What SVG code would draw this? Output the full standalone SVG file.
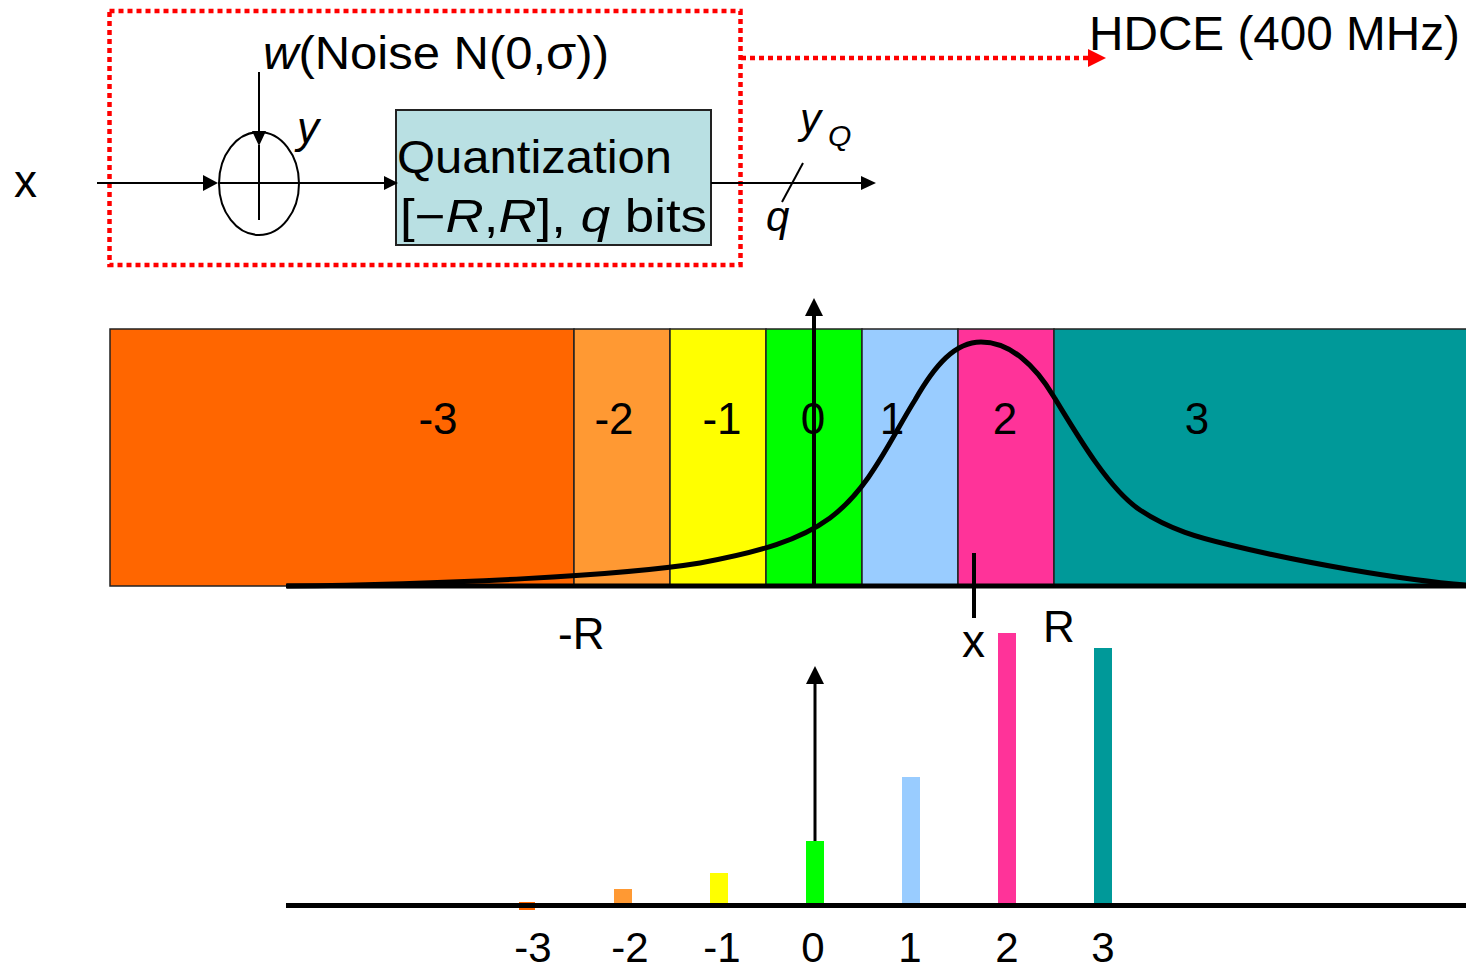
<svg xmlns="http://www.w3.org/2000/svg" width="1466" height="969" viewBox="0 0 1466 969">
<style>
.t{font-family:"Liberation Sans",Arial,sans-serif;fill:#000}
.i{font-style:italic}
.ln{stroke:#000;stroke-width:2;fill:none}
.red{stroke:#FF0000;stroke-width:4.5;stroke-dasharray:5 4;fill:none}
.band{stroke:#222;stroke-width:1.5}
.c0{fill:#FF6600}.c1{fill:#FF9933}.c2{fill:#FFFF00}.c3{fill:#00FF00}.c4{fill:#99CCFF}.c5{fill:#FF3399}.c6{fill:#009999}
</style>
<rect width="1466" height="969" fill="#fff"/>

<g id="system-box">
<rect x="109.5" y="11" width="631" height="254" class="red"/>
</g>

<g id="hdce">
<text x="1089" y="50" class="t" font-size="48" textLength="371" lengthAdjust="spacingAndGlyphs">HDCE (400 MHz)</text>
</g>

<g id="input-x">
<text x="14" y="197" class="t" font-size="46">x</text>
</g>

<g id="noise-label">
<text x="263" y="69" class="t" font-size="46" textLength="346" lengthAdjust="spacingAndGlyphs"><tspan class="i">w</tspan>(Noise N(0,σ))</text>
</g>

<g id="adder">
<ellipse cx="259" cy="183.5" rx="40" ry="51.5" class="ln"/>
<line x1="259" y1="145" x2="259" y2="220" class="ln"/>
<line x1="218" y1="183" x2="299" y2="183" class="ln"/>
<text x="297" y="143" class="t i" font-size="44">y</text>
</g>

<g id="quantizer">
<rect x="396" y="110" width="315" height="135" fill="#B9E0E3" stroke="#222" stroke-width="2"/>
<text x="397" y="173" class="t" font-size="46" textLength="275" lengthAdjust="spacingAndGlyphs">Quantization</text>
<text x="400" y="232" class="t" font-size="46" textLength="307" lengthAdjust="spacingAndGlyphs">[−<tspan class="i">R</tspan>,<tspan class="i">R</tspan>], <tspan class="i">q</tspan> bits</text>
</g>

<g id="output-label">
<text x="800" y="133" class="t i" font-size="42">y</text>
<text x="828" y="146" class="t i" font-size="30">Q</text>
<text x="766" y="231" class="t i" font-size="42">q</text>
</g>

<g id="connectors">
<line x1="259" y1="72" x2="259" y2="140" class="ln"/>
<polygon points="252,131 266,131 259,146" fill="#000"/>
<line x1="97" y1="183" x2="205" y2="183" class="ln"/>
<polygon points="203,175 218,183 203,191" fill="#000"/>
<line x1="299" y1="183" x2="386" y2="183" class="ln"/>
<polygon points="384,176 398,183 384,190" fill="#000"/>
<line x1="711" y1="183" x2="863" y2="183" class="ln"/>
<polygon points="861,176 876,183 861,190" fill="#000"/>
<line x1="803" y1="163" x2="782" y2="202" class="ln"/>
<line x1="741" y1="58" x2="1090" y2="58" class="red"/>
<polygon points="1088,49 1106,58 1088,67" fill="#FF0000"/>
</g>

<g id="bands">
<rect x="110" y="329" width="464" height="257" class="c0 band"/>
<rect x="574" y="329" width="96" height="257" class="c1 band"/>
<rect x="670" y="329" width="96" height="257" class="c2 band"/>
<rect x="766" y="329" width="96" height="257" class="c3 band"/>
<rect x="862" y="329" width="96" height="257" class="c4 band"/>
<rect x="958" y="329" width="96" height="257" class="c5 band"/>
<rect x="1054" y="329" width="414" height="257" class="c6 band"/>
<g class="t" font-size="44" text-anchor="middle">
<text x="438" y="434">-3</text>
<text x="614" y="434">-2</text>
<text x="722" y="434">-1</text>
<text x="813" y="434">0</text>
<text x="892" y="434">1</text>
<text x="1005" y="434">2</text>
<text x="1197" y="434">3</text>
</g>
</g>

<g id="pdf-axis">
<line x1="286" y1="586" x2="1466" y2="586" stroke="#000" stroke-width="5"/>
<path d="M287,586 C450,584 620,576 700,563 C760,552 800,540 830,518 C870,488 890,440 915,400 C935,365 955,342 981,342 C1010,342 1035,365 1054,397 C1080,440 1110,490 1140,510 C1170,530 1200,538 1230,545 C1300,562 1400,580 1466,585" fill="none" stroke="#000" stroke-width="5"/>
<line x1="814" y1="586" x2="814" y2="312" stroke="#000" stroke-width="4"/>
<polygon points="805,316 814,298 823,316" fill="#000"/>
<line x1="974" y1="553" x2="974" y2="618" stroke="#000" stroke-width="4"/>
<text x="558" y="649" class="t" font-size="44">-R</text>
<text x="1043" y="642" class="t" font-size="44">R</text>
<text x="962" y="657" class="t" font-size="46">x</text>
</g>

<g id="pmf">
<rect x="519" y="902" width="16" height="8" class="c0"/>
<rect x="614" y="889" width="18" height="18" class="c1"/>
<rect x="710" y="873" width="18" height="34" class="c2"/>
<rect x="806" y="841" width="18" height="66" class="c3"/>
<rect x="902" y="777" width="18" height="130" class="c4"/>
<rect x="998" y="633" width="18" height="274" class="c5"/>
<rect x="1094" y="648" width="18" height="259" class="c6"/>
<line x1="286" y1="905.5" x2="1466" y2="905.5" stroke="#000" stroke-width="5"/>
<line x1="815" y1="841" x2="815" y2="680" stroke="#000" stroke-width="3"/>
<polygon points="806,684 815,666 824,684" fill="#000"/>
<g class="t" font-size="42" text-anchor="middle">
<text x="533" y="962">-3</text>
<text x="630" y="962">-2</text>
<text x="722" y="962">-1</text>
<text x="813" y="962">0</text>
<text x="910" y="962">1</text>
<text x="1007" y="962">2</text>
<text x="1103" y="962">3</text>
</g>
</g>
</svg>
